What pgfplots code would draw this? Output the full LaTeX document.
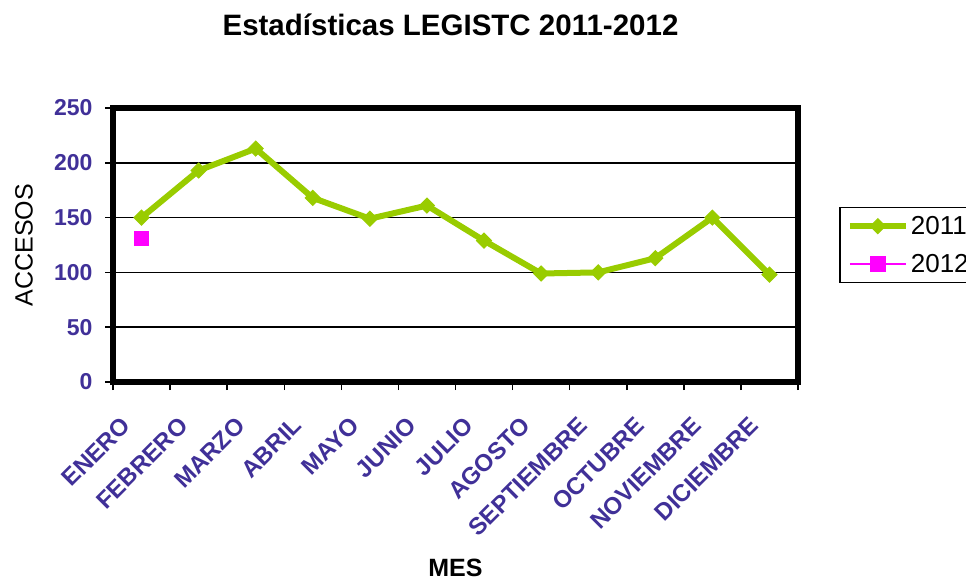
\documentclass[border=0pt]{standalone}
\usepackage{fontspec}
\setmainfont{Liberation Sans}
\usepackage{pgfplots}
\pgfplotsset{compat=1.18}
\definecolor{tickpurple}{RGB}{64,48,152}
\definecolor{linegreen}{RGB}{153,204,0}
\definecolor{pink2012}{RGB}{255,0,255}
\begin{document}
\begin{tikzpicture}
\useasboundingbox (0pt,0pt) rectangle (966pt,-578pt);
\begin{axis}[
  at={(113pt,-382pt)}, anchor=south west,
  scale only axis, width=685pt, height=274pt,
  xmin=0, xmax=12, ymin=0, ymax=250,
  ytick={0,50,...,250},
  xtick={0.5,1.5,...,11.5},
  xticklabels={ENERO,FEBRERO,MARZO,ABRIL,MAYO,JUNIO,JULIO,AGOSTO,SEPTIEMBRE,OCTUBRE,NOVIEMBRE,DICIEMBRE},
  minor xtick={0,...,12},
  tick pos=left,
  tick align=outside,
  major tick length=8pt, minor tick length=8pt,
  major x tick style={draw=none},
  tick style={black, line width=1.5pt},
  ymajorgrids, grid style={black, line width=1.5pt},
  axis line style={line width=5.5pt},
  /pgf/number format/assume math mode=true,
  yticklabel style={font=\bfseries\fontsize{23}{25}\selectfont, text=tickpurple,
    xshift=-9pt},
  xticklabel style={rotate=45, anchor=north east, inner sep=0pt, xshift=-33pt, yshift=-3pt,
    font=\bfseries\fontsize{24}{26}\selectfont, text=tickpurple},
  title={Estadísticas LEGISTC 2011-2012},
  title style={at={(0.5,1)}, anchor=center, yshift=77pt, xshift=-5pt,
    font=\bfseries\fontsize{29.5}{32}\selectfont},
  xlabel={MES},
  xlabel style={at={(0.5,0)}, anchor=center, yshift=-186pt,
    font=\bfseries\fontsize{25}{28}\selectfont},
  ylabel={ACCESOS},
  ylabel style={at={(0,0.5)}, anchor=center, yshift=89pt,
    font=\fontsize{25}{28}\selectfont},
  legend style={at={(1.06,0.5)}, anchor=west, draw=black, line width=1.5pt,
    font=\fontsize{26}{28}\selectfont, row sep=14pt, inner sep=7pt},
  legend cell align=left,
  legend image code/.code={
    \draw[mark repeat=2,mark phase=2,#1] plot coordinates {(0pt,0pt) (28pt,0pt) (56pt,0pt)};
  },
]
\addplot[linegreen, line width=6pt, mark=square*, mark size=5.3pt,
  mark options={rotate=45, line width=1pt}]
  coordinates {(0.5,150) (1.5,193) (2.5,213) (3.5,168) (4.5,149) (5.5,161)
    (6.5,129) (7.5,99) (8.5,100) (9.5,113) (10.5,150) (11.5,98)};
\addlegendentry{2011}
\addplot[pink2012, line width=1.5pt, mark=square*, mark size=7pt]
  coordinates {(0.5,131)};
\addlegendentry{2012}
\end{axis}
\end{tikzpicture}
\end{document}
